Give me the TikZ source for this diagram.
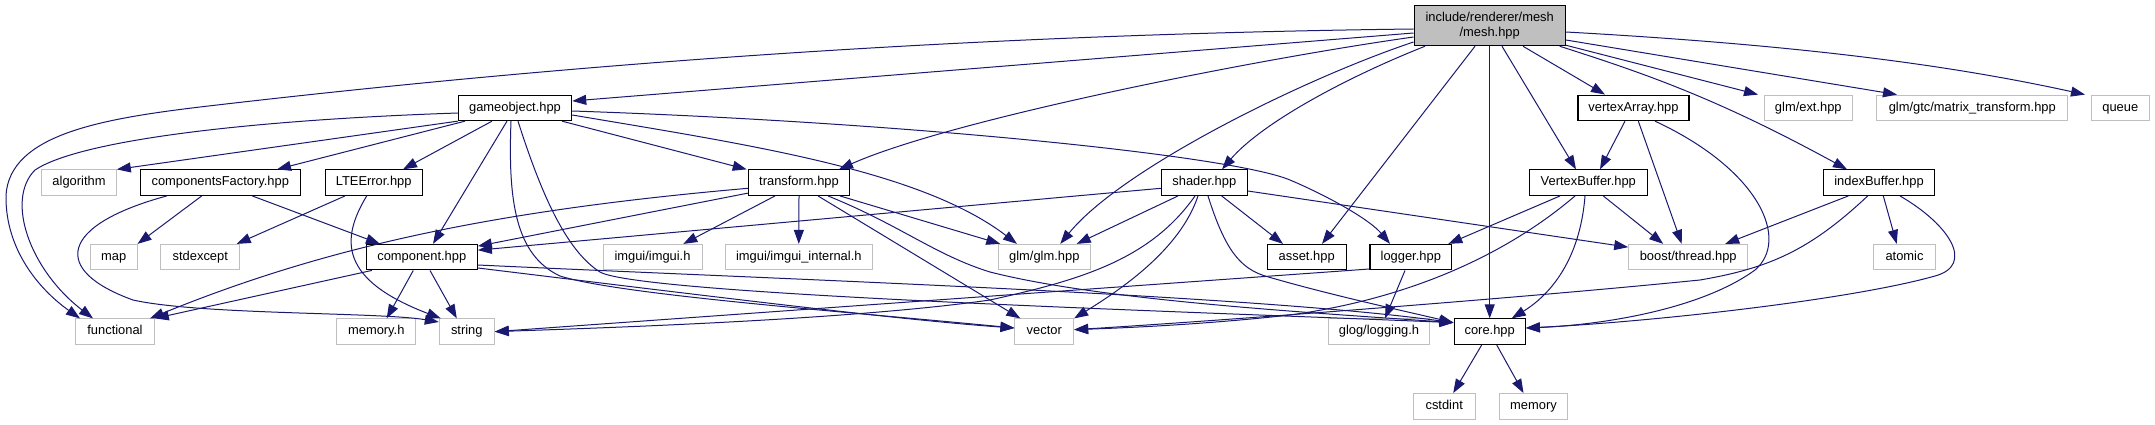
\documentclass[tikz,border=0pt]{standalone}
\usepackage{fontspec}
\setmainfont{Liberation Sans}
\usetikzlibrary{arrows.meta}
\definecolor{edgec}{HTML}{191970}
\definecolor{grayb}{HTML}{BFBFBF}
\begin{document}
\begin{tikzpicture}[x=1pt,y=-1pt,
  lbl/.style={font=\fontsize{12.9}{15}\selectfont, inner sep=0pt, text height=9.2pt, text depth=2.6pt, minimum height=25.5pt, fill=white},
  doc/.style={lbl, draw=black, line width=1.1pt},
  ext/.style={lbl, draw=grayb, line width=1pt},
  meshbox/.style={font=\fontsize{12.9}{15}\selectfont, inner sep=0pt, align=center, minimum height=40pt, draw=black, line width=1.1pt, fill=grayb},
  dep/.style={draw=edgec, line width=1pt, -{Triangle[length=14pt,width=10pt]}}]
\path[use as bounding box] (0,0) rectangle (2155,425);

% nodes
\node[meshbox, minimum width=151.3pt] (mesh) at (1489.7,25.7) {include/renderer/mesh\\/mesh.hpp};
\node[doc, minimum width=113.4pt] (gameobject) at (515,107.85) {gameobject.hpp};
\node[doc, minimum width=111pt] (vA) at (1633.5,107.85) {vertexArray.hpp};
\node[ext, minimum width=88pt] (glmext) at (1808.3,107.85) {glm/ext.hpp};
\node[ext, minimum width=190.7pt] (gtc) at (1972.3,107.85) {glm/gtc/matrix\_transform.hpp};
\node[ext, minimum width=58pt] (queue) at (2120.3,107.85) {queue};
\node[ext, minimum width=74.6pt] (algorithm) at (79,182.65) {algorithm};
\node[doc, minimum width=160pt] (cf) at (220.3,182.65) {componentsFactory.hpp};
\node[doc, minimum width=97.3pt] (lte) at (373.7,182.65) {LTEError.hpp};
\node[doc, minimum width=101.4pt] (transform) at (799,182.65) {transform.hpp};
\node[doc, minimum width=86pt] (shader) at (1204.3,182.65) {shader.hpp};
\node[doc, minimum width=118pt] (VB) at (1588.3,182.65) {VertexBuffer.hpp};
\node[doc, minimum width=111.4pt] (IB) at (1879,182.65) {indexBuffer.hpp};
\node[ext, minimum width=46.7pt] (map) at (113.7,257.15) {map};
\node[ext, minimum width=78.7pt] (stdexcept) at (200.3,257.15) {stdexcept};
\node[doc, minimum width=111pt] (component) at (421.8,257.15) {component.hpp};
\node[ext, minimum width=99pt] (imgui) at (652.5,257.15) {imgui/imgui.h};
\node[ext, minimum width=147pt] (imguiint) at (798.8,257.15) {imgui/imgui\_internal.h};
\node[ext, minimum width=92pt] (glm) at (1044.3,257.15) {glm/glm.hpp};
\node[doc, minimum width=78.7pt] (asset) at (1306.7,257.15) {asset.hpp};
\node[doc, minimum width=81.7pt] (logger) at (1410.8,257.15) {logger.hpp};
\node[ext, minimum width=119pt] (boost) at (1688.2,257.15) {boost/thread.hpp};
\node[ext, minimum width=61.6pt] (atomic) at (1904.5,257.15) {atomic};
\node[ext, minimum width=78.6pt] (functional) at (115,331.65) {functional};
\node[ext, minimum width=78.7pt] (memoryh) at (376.3,331.65) {memory.h};
\node[ext, minimum width=55pt] (string) at (466.8,331.65) {string};
\node[ext, minimum width=58.7pt] (vector) at (1044.3,331.65) {vector};
\node[ext, minimum width=101.4pt] (glog) at (1379,331.65) {glog/logging.h};
\node[doc, minimum width=71.3pt] (core) at (1489.7,331.65) {core.hpp};
\node[ext, minimum width=61.7pt] (cstdint) at (1444.2,406.35) {cstdint};
\node[ext, minimum width=68.4pt] (memory) at (1533.5,406.35) {memory};

% mesh edges
\draw[dep] ([yshift=-3.3pt]mesh.west) .. controls (1000,34) and (600,60) .. (200,107) .. controls (100,119) and (10,135) .. (6,195) .. controls (5,250) and (40,290) .. ([xshift=-35pt]functional.north);
\draw[dep] ([yshift=-7.3pt]mesh.west) -- ([yshift=6.85pt]gameobject.east);
\draw[dep] ([yshift=-11.3pt]mesh.west) .. controls (1250,60) and (950,120) .. ([xshift=40pt]transform.north);
\draw[dep] ([yshift=-16.3pt]mesh.west) .. controls (1300,80) and (1120,170) .. ([xshift=16pt]glm.north);
\draw[dep] ([xshift=-64.7pt]mesh.south) .. controls (1340,80) and (1260,125) .. ([xshift=17.7pt]shader.north);
\draw[dep] ([xshift=-14.7pt]mesh.south) -- ([xshift=15.3pt]asset.north);
\draw[dep] (mesh.south) -- (core.north);
\draw[dep] ([xshift=12.3pt]mesh.south) -- ([xshift=-12.3pt]VB.north);
\draw[dep] ([xshift=33.3pt]mesh.south) -- ([xshift=-28.5pt]vA.north);
\draw[dep] ([yshift=1pt]mesh.south east) -- ([xshift=-50.3pt]glmext.north);
\draw[dep] ([yshift=-14.3pt]mesh.east) -- ([xshift=-75.3pt]gtc.north);
\draw[dep] ([yshift=-6.3pt]mesh.east) .. controls (1800,45) and (1950,65) .. ([xshift=-35.3pt]queue.north);
\draw[dep] ([xshift=70pt]mesh.south) .. controls (1650,75) and (1720,100) .. ([xshift=-32pt]IB.north);

% gameobject edges
\draw[dep] ([yshift=-5.15pt]gameobject.west) .. controls (250,120) and (80,140) .. (35,170) .. controls (5,200) and (30,270) .. ([xshift=-22pt]functional.north);
\draw[dep] (gameobject.south west) -- (algorithm.north east);
\draw[dep] ([xshift=-50pt]gameobject.south) -- ([xshift=56.7pt]cf.north);
\draw[dep] ([xshift=-23pt]gameobject.south) -- ([xshift=29.3pt]lte.north);
\draw[dep] ([xshift=-8pt]gameobject.south) -- ([xshift=11.2pt]component.north);
\draw[dep] ([xshift=47pt]gameobject.south) -- ([xshift=-52.3pt]transform.north);
\draw[dep] ([yshift=-7.15pt]gameobject.east) .. controls (750,145) and (920,170) .. ([xshift=-27.3pt]glm.north);
\draw[dep] ([yshift=-3.15pt]gameobject.east) .. controls (900,122) and (1230,155) .. (1290,180) .. controls (1330,197) and (1370,220) .. ([xshift=-20.8pt]logger.north);
\draw[dep] ([xshift=-4pt]gameobject.south) .. controls (508,200) and (515,255) .. (560,276) .. controls (620,295) and (850,312) .. ([yshift=3.65pt]vector.west);
\draw[dep] ([xshift=3pt]gameobject.south) .. controls (540,190) and (565,250) .. (600,272) .. controls (640,295) and (1200,312) .. ([yshift=9pt]core.west);

% componentsFactory edges
\draw[dep] ([xshift=-18.6pt]cf.south) -- (map.north east);
\draw[dep] ([xshift=32pt]cf.south) -- ([xshift=-41.8pt]component.north);
\draw[dep] ([xshift=-53.6pt]cf.south) .. controls (60,225) and (50,270) .. (133,300) .. controls (200,315) and (380,312) .. ([yshift=9.65pt]string.west);

% LTEError edges
\draw[dep] ([xshift=-28.7pt]lte.south) -- ([xshift=36.4pt]stdexcept.north);
\draw[dep] ([xshift=-7pt]lte.south) .. controls (340,240) and (340,280) .. ([xshift=-26pt]string.north);

% transform edges
\draw[dep] ([yshift=-5.65pt]transform.west) .. controls (500,210) and (330,245) .. ([xshift=35pt]functional.north);
\draw[dep] ([yshift=-10.5pt]transform.west) -- ([yshift=11pt]component.east);
\draw[dep] ([xshift=-24pt]transform.south) -- ([xshift=30.8pt]imgui.north);
\draw[dep] (transform.south) -- (imguiint.north);
\draw[dep] ([xshift=41pt]transform.south) -- ([xshift=-44pt]glm.north);
\draw[dep] ([xshift=19pt]transform.south) -- ([xshift=-24pt]vector.north);
\draw[dep] ([xshift=29pt]transform.south) .. controls (900,225) and (935,255) .. (990,272) .. controls (1100,300) and (1300,312) .. ([yshift=9pt]core.west);

% component edges
\draw[dep] ([xshift=-50pt]component.south) -- (functional.north east);
\draw[dep] ([xshift=-8.5pt]component.south) -- ([xshift=10.4pt]memoryh.north);
\draw[dep] ([xshift=8.2pt]component.south) -- ([xshift=-10pt]string.north);
\draw[dep] ([yshift=-10.85pt]component.east) .. controls (700,295) and (900,320) .. ([yshift=3.65pt]vector.west);
\draw[dep] ([yshift=-7.85pt]component.east) .. controls (800,280) and (1250,295) .. ([yshift=9pt]core.west);

% shader edges
\draw[dep] ([yshift=-5.65pt]shader.west) -- ([yshift=7pt]component.east);
\draw[dep] ([xshift=-26.3pt]shader.south) -- ([xshift=32.4pt]glm.north);
\draw[dep] ([xshift=-9.3pt]shader.south) .. controls (1150,260) and (1080,280) .. (990,300) .. controls (850,320) and (600,328) .. (string.east);
\draw[dep] ([xshift=-6.3pt]shader.south) .. controls (1180,250) and (1120,290) .. (vector.north east);
\draw[dep] ([xshift=3.7pt]shader.south) .. controls (1225,250) and (1240,268) .. (1265,276) .. controls (1330,295) and (1400,310) .. ([yshift=9pt]core.west);
\draw[dep] ([xshift=17.4pt]shader.south) -- ([xshift=-23.7pt]asset.north);
\draw[dep] ([yshift=-8.35pt]shader.east) -- ([yshift=10pt]boost.west);

% logger edges
\draw[dep] ([yshift=-11.85pt]logger.west) -- (string.east);
\draw[dep] ([xshift=-5.8pt]logger.south) -- ([xshift=6pt]glog.north);

% core edges
\draw[dep] ([xshift=-8pt]core.south) -- ([xshift=9pt]cstdint.north);
\draw[dep] ([xshift=7pt]core.south) -- ([xshift=-10pt]memory.north);

% vertexArray edges
\draw[dep] ([xshift=-8.5pt]vA.south) -- ([xshift=11.7pt]VB.north);
\draw[dep] ([xshift=4.8pt]vA.south) -- ([xshift=-6.5pt]boost.north);
\draw[dep] ([xshift=21.5pt]vA.south) .. controls (1760,170) and (1790,240) .. (1755,270) .. controls (1700,310) and (1600,325) .. ([yshift=3.65pt]core.east);

% VertexBuffer edges
\draw[dep] ([xshift=-28.3pt]VB.south) -- ([xshift=37.5pt]logger.north);
\draw[dep] ([xshift=-13.3pt]VB.south) .. controls (1500,260) and (1400,300) .. (1290,315) .. controls (1200,325) and (1120,328) .. ([yshift=2pt]vector.east);
\draw[dep] ([xshift=-3.3pt]VB.south) .. controls (1580,260) and (1550,295) .. ([xshift=22pt]core.north);
\draw[dep] ([xshift=15pt]VB.south) -- ([xshift=-25pt]boost.north);

% indexBuffer edges
\draw[dep] ([xshift=-30.7pt]IB.south) -- ([xshift=37pt]boost.north);
\draw[dep] ([xshift=-11.3pt]IB.south) .. controls (1810,250) and (1770,268) .. (1700,280) .. controls (1500,300) and (1200,322) .. ([yshift=2pt]vector.east);
\draw[dep] ([xshift=4.3pt]IB.south) -- ([xshift=-7.8pt]atomic.north);
\draw[dep] ([xshift=21pt]IB.south) .. controls (1950,225) and (1975,265) .. (1935,276) .. controls (1850,300) and (1650,322) .. ([yshift=3.65pt]core.east);
\end{tikzpicture}
\end{document}
